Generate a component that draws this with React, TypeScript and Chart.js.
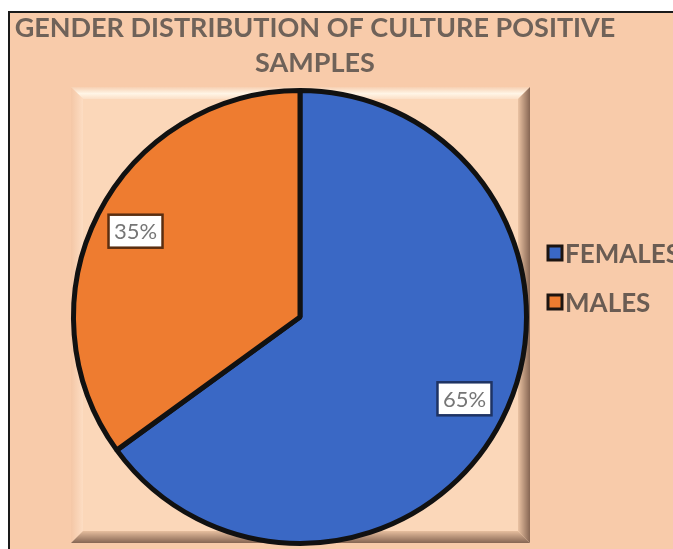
import React, { useEffect, useRef } from "react";
import { Chart, registerables } from "chart.js";

Chart.register(...registerables);

const categories = ["FEMALES", "MALES"];
const values = [65, 35];
const percentLabels = ["65%", "35%"];
const titleLines = ["GENDER DISTRIBUTION OF CULTURE POSITIVE", "SAMPLES"];
const sliceColors = ["#3A68C5", "#EE7C30"];
const labelBorderColors = ["#1E3364", "#5A2E10"];

const W = 665;
const H = 538;

const decorPlugin = {
  id: "decor",
  beforeDraw(chart: any) {
    const { ctx, chartArea } = chart;
    ctx.save();
    ctx.fillStyle = "#F8CBAA";
    ctx.fillRect(0, 0, W, H);
    ctx.fillStyle = "#1a1a1a";
    ctx.fillRect(0, 0, W, 2);
    ctx.fillRect(0, 0, 2, H);

    const x0 = chartArea.left;
    const x1 = chartArea.right + 1;
    const y0 = chartArea.top - 1;
    const y1 = chartArea.bottom - 3;
    const b = 12;
    ctx.fillStyle = "#FBD7B9";
    ctx.fillRect(x0, y0, x1 - x0, y1 - y0);

    let g = ctx.createLinearGradient(0, y0, 0, y0 + b);
    g.addColorStop(0, "#F7D0B2");
    g.addColorStop(0.55, "#FFF5E6");
    g.addColorStop(1, "#FCDFC6");
    ctx.fillStyle = g;
    ctx.beginPath();
    ctx.moveTo(x0, y0);
    ctx.lineTo(x1, y0);
    ctx.lineTo(x1 - b, y0 + b);
    ctx.lineTo(x0 + b, y0 + b);
    ctx.closePath();
    ctx.fill();

    g = ctx.createLinearGradient(x0, 0, x0 + b, 0);
    g.addColorStop(0, "#F4C7A6");
    g.addColorStop(1, "#FDDDC3");
    ctx.fillStyle = g;
    ctx.beginPath();
    ctx.moveTo(x0, y0);
    ctx.lineTo(x0 + b, y0 + b);
    ctx.lineTo(x0 + b, y1 - b);
    ctx.lineTo(x0, y1);
    ctx.closePath();
    ctx.fill();

    g = ctx.createLinearGradient(x1 - b, 0, x1, 0);
    g.addColorStop(0, "#EBC3A3");
    g.addColorStop(1, "#86665300".slice(0, 7));
    ctx.fillStyle = g;
    ctx.beginPath();
    ctx.moveTo(x1, y0);
    ctx.lineTo(x1, y1);
    ctx.lineTo(x1 - b, y1 - b);
    ctx.lineTo(x1 - b, y0 + b);
    ctx.closePath();
    ctx.fill();

    g = ctx.createLinearGradient(0, y1 - b, 0, y1);
    g.addColorStop(0, "#E6BE9E");
    g.addColorStop(1, "#866653");
    ctx.fillStyle = g;
    ctx.beginPath();
    ctx.moveTo(x0, y1);
    ctx.lineTo(x1, y1);
    ctx.lineTo(x1 - b, y1 - b);
    ctx.lineTo(x0 + b, y1 - b);
    ctx.closePath();
    ctx.fill();
    ctx.restore();
  },
  afterDatasetsDraw(chart: any) {
    const { ctx } = chart;
    const meta = chart.getDatasetMeta(0);
    ctx.save();
    meta.data.forEach((arc: any, i: number) => {
      const { x, y, startAngle, endAngle, outerRadius } = arc.getProps(
        ["x", "y", "startAngle", "endAngle", "outerRadius"],
        true
      );
      const mid = (startAngle + endAngle) / 2;
      const r = outerRadius * 0.815;
      const px = x + Math.cos(mid) * r;
      const py = y + Math.sin(mid) * r - 2;
      const bw = 54;
      const bh = 33;
      ctx.fillStyle = "#FFFFFF";
      ctx.fillRect(px - bw / 2, py - bh / 2, bw, bh);
      ctx.lineWidth = 2.5;
      ctx.strokeStyle = labelBorderColors[i];
      ctx.strokeRect(px - bw / 2, py - bh / 2, bw, bh);
      ctx.fillStyle = "#767676";
      ctx.font = "22px Lato";
      ctx.textAlign = "center";
      ctx.textBaseline = "middle";
      ctx.fillText(percentLabels[i], px, py + 1);
    });
    ctx.restore();
  },
  afterDraw(chart: any) {
    const { ctx } = chart;
    ctx.save();
    ctx.fillStyle = "#6F6259";
    ctx.font = "bold 27px Lato";
    ctx.textAlign = "center";
    ctx.textBaseline = "alphabetic";
    const baselines = [26, 61];
    titleLines.forEach((line, i) => ctx.fillText(line, 307, baselines[i]));

    const legendY = [242, 291];
    categories.forEach((cat, i) => {
      const cy = legendY[i];
      ctx.fillStyle = sliceColors[i];
      ctx.fillRect(540, cy - 7, 14, 14);
      ctx.lineWidth = 3;
      ctx.strokeStyle = "#1C1410";
      ctx.strokeRect(540, cy - 7, 14, 14);
      ctx.fillStyle = "#6A5C53";
      ctx.font = "bold 26px Lato";
      ctx.textAlign = "left";
      ctx.textBaseline = "alphabetic";
      ctx.fillText(cat, 557, cy + 9.5);
    });
    ctx.restore();
  },
};

export default function App() {
  const canvasRef = useRef<HTMLCanvasElement | null>(null);

  useEffect(() => {
    const canvas = canvasRef.current;
    if (!canvas) return;
    const chart = new Chart(canvas, {
      type: "pie",
      data: {
        labels: categories,
        datasets: [
          {
            data: values,
            backgroundColor: sliceColors,
            borderColor: "#111111",
            borderWidth: 5,
          },
        ],
      },
      options: {
        responsive: false,
        animation: false,
        devicePixelRatio: 1,
        layout: { padding: { left: 63, right: 144, top: 77, bottom: 3 } },
        plugins: {
          legend: { display: false },
          title: { display: false },
          tooltip: { enabled: false },
        },
      },
      plugins: [decorPlugin],
    });
    return () => chart.destroy();
  }, []);

  return (
    <div style={{ position: "fixed", left: 8, top: 11, width: W, height: H, overflow: "hidden" }}>
      <canvas ref={canvasRef} width={W} height={H} style={{ display: "block", width: W, height: H }} />
    </div>
  );
}
